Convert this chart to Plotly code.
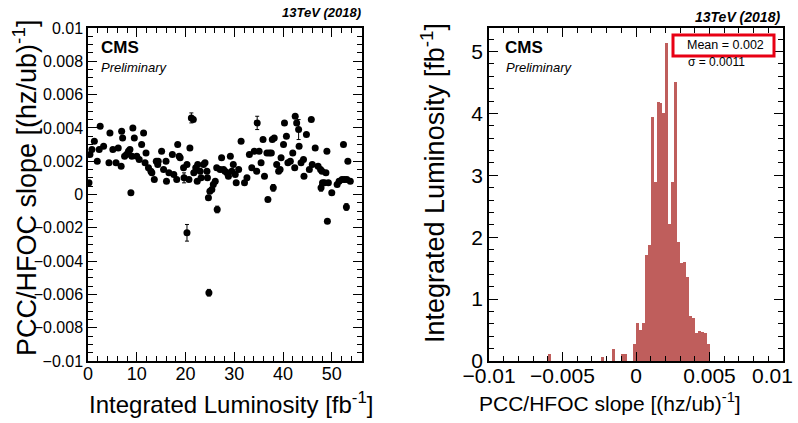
import plotly.graph_objects as go

# Per-fill slope of PCC/HFOC ratio vs. integrated luminosity
lumi_fb = [0.2, 0.4, 0.8, 1.3, 1.9, 2.3, 2.5, 3.2, 4.3, 4.5, 5.1, 5.75, 6.2, 6.8, 6.9, 7.1, 7.5, 7.9,
           8.3, 8.6, 8.8, 9.0, 9.2, 9.5, 10.0, 10.5, 11.0, 11.4, 11.7, 11.9, 12.4, 12.9, 13.1, 13.6,
           14.0, 14.3, 14.4, 15.1, 15.5, 16.0, 16.1, 16.6, 17.3, 17.6, 18.2, 18.4, 18.7, 18.9, 19.6,
           19.7, 20.3, 20.3, 20.7, 20.9, 21.2, 21.6, 21.7, 22.1, 22.4, 22.5, 23.0, 23.2, 23.7, 24.0,
           24.4, 24.5, 24.7, 24.8, 25.0, 25.4, 25.7, 26.1, 26.4, 26.5, 27.1, 27.4, 27.8, 28.1, 28.5,
           28.8, 29.2, 29.5, 29.8, 30.2, 30.4, 30.9, 31.4, 32.1, 32.6, 33.1, 33.6, 34.1, 34.6, 34.7,
           35.1, 35.5, 35.9, 36.2, 36.7, 36.9, 37.2, 37.6, 37.8, 38.0, 38.2, 38.7, 39.1, 39.4, 39.6,
           40.1, 40.3, 40.7, 41.0, 41.5, 42.0, 42.4, 42.5, 42.8, 43.2, 43.3, 43.7, 44.2, 44.3, 44.8,
           45.4, 45.8, 46.0, 46.6, 47.2, 47.7, 47.8, 48.0, 48.1, 48.5, 48.8, 49.0, 49.1, 49.3, 50.0,
           51.1, 51.5, 52.1, 52.4, 52.6, 53.0, 53.1, 53.3, 53.8]
slope = [0.0007, 0.0024, 0.0027, 0.0032, 0.0020, 0.0027, 0.0041, 0.0029, 0.0019, 0.0037, 0.0027,
         0.0019, 0.0028, 0.0017, 0.0038, 0.0034, 0.0023, 0.0024, 0.0026, 0.0027, 0.0001, 0.0023,
         0.0040, 0.0034, 0.0023, 0.0021, 0.0030, 0.0037, 0.0019, 0.0025, 0.0016, 0.0014, 0.0013,
         0.0009, 0.0020, 0.0018, 0.0020, 0.0026, 0.0015, 0.0020, 0.0008, 0.0013, 0.0024, 0.0012,
         0.0009, 0.0030, 0.0023, 0.0022, 0.0016, 0.0010, 0.0018, -0.0023, 0.0009, 0.0028, 0.0046,
         0.0045, 0.0013, 0.0016, 0.0008, 0.0018, 0.0014, 0.0010, 0.0018, 0.0019, 0.0014, 0.0010,
         -0.0002, -0.0059, 0.0002, 0.0003, 0.0006, 0.0008, 0.0016, -0.0009, 0.0015, 0.0022, 0.0015,
         0.0014, 0.0013, 0.0011, 0.0023, 0.0014, 0.0018, 0.0012, 0.0007, 0.0015, 0.0032, 0.0007,
         0.0010, 0.0024, 0.0016, 0.0026, 0.0014, 0.0043, 0.0026, 0.0019, 0.0033, 0.0011, 0.0025,
         -0.0003, 0.0025, 0.0025, 0.0033, 0.0004, 0.0034, 0.0018, 0.0014, 0.0015, 0.0022, 0.0030,
         0.0043, 0.0035, 0.0019, 0.0020, 0.0025, 0.0016, 0.0047, 0.0043, 0.0039, 0.0029, 0.0019,
         0.0021, 0.0011, 0.0036, 0.0015, 0.0045, 0.0018, 0.0028, 0.0017, 0.0015, 0.0004, 0.0014,
         0.0007, 0.0007, 0.0013, 0.0026, -0.0016, 0.0007, 0.0001, 0.0006, 0.0008, 0.0009, 0.0030,
         0.0009, -0.00075, 0.0009, 0.0020, 0.0008]
slope_err = [0.0001] * len(slope)
for xv, ev in [(19.7, 0.0003), (20.3, 0.0005), (21.2, 0.0003), (24.8, 0.0002), (26.5, 0.0002),
               (34.7, 0.0004), (38.0, 0.0002), (43.2, 0.0006), (47.8, 0.0002), (53.0, 0.0002)]:
    for i, xx in enumerate(lumi_fb):
        if xx == xv and (xv != 20.3 or slope[i] < 0):
            slope_err[i] = ev

# Luminosity-weighted slope distribution (bin width 0.0002)
bin_centers = [-0.0059, -0.0023, -0.0015, -0.0009, -0.0007, -0.0001,
               0.0001, 0.0003, 0.0005, 0.0007, 0.0009, 0.0011, 0.0013, 0.0015, 0.0017,
               0.0019, 0.0021, 0.0023, 0.0025, 0.0027, 0.0029, 0.0031, 0.0033, 0.0035,
               0.0037, 0.0039, 0.0041, 0.0043, 0.0045, 0.0047, 0.0049]
lumi_per_bin = [0.12, 0.06, 0.19, 0.11, 0.11, 0.27,
                0.61, 0.50, 0.62, 1.71, 1.88, 3.95, 2.90, 4.19, 4.17,
                4.01, 5.13, 2.22, 2.90, 4.50, 1.92, 1.58, 1.60, 1.35,
                0.72, 0.70, 0.45, 0.48, 0.47, 0.45, 0.27]

left_yticks = [-0.01, -0.008, -0.006, -0.004, -0.002, 0, 0.002, 0.004, 0.006, 0.008, 0.01]
left_ylabels = ["\u22120.01", "\u22120.008", "\u22120.006", "\u22120.004", "\u22120.002", "0",
                "0.002", "0.004", "0.006", "0.008", "0.01"]
# the last label sits at the frame edge and is placed separately so it stays inside the page
right_xticks = [-0.01, -0.005, 0, 0.005, 0.01]
right_xlabels = ["\u22120.01", "\u22120.005", "0", "0.005", ""]
right_xlast = "0.01"

W, H = 798, 423
SANS = "Liberation Sans, Arial, Helvetica"
BAR_COLOR = "rgb(191,94,92)"


def px(x):
    return x / W


def py(y):
    return 1 - y / H


fig = go.Figure()

fig.add_trace(go.Scatter(
    x=lumi_fb, y=slope, mode="markers",
    marker=dict(color="black", size=7),
    error_y=dict(type="data", array=slope_err, color="black", thickness=1, width=2),
    xaxis="x", yaxis="y", showlegend=False,
))

fig.add_trace(go.Bar(
    x=bin_centers, y=lumi_per_bin, width=0.0002,
    marker=dict(color=BAR_COLOR, line=dict(width=0)),
    xaxis="x2", yaxis="y2", showlegend=False,
))

axis_common = dict(
    showline=True, linecolor="black", linewidth=1.5, mirror="allticks",
    ticks="inside", ticklen=9, tickwidth=1, tickcolor="black",
    showgrid=False, zeroline=False, automargin=False, ticklabeloverflow="allow",
)

fig.update_layout(
    width=W, height=H, margin=dict(l=0, r=0, t=0, b=0, autoexpand=False),
    paper_bgcolor="white", plot_bgcolor="white", bargap=0,
    xaxis=dict(domain=[px(88), px(362)], range=[0, 56.2], anchor="y",
               tickvals=[0, 10, 20, 30, 40, 50], ticklabelstandoff=-4,
               minor=dict(dtick=2, ticklen=5, ticks="inside", tickcolor="black"),
               tickfont=dict(family=SANS, size=18, color="black"), **axis_common),
    yaxis=dict(domain=[py(361), py(28)], range=[-0.01000001, 0.01000001], anchor="x",
               tickvals=left_yticks, ticktext=left_ylabels,
               minor=dict(dtick=0.0005, ticklen=5, ticks="inside", tickcolor="black"),
               tickfont=dict(family=SANS, size=16, color="black"), **axis_common),
    xaxis2=dict(domain=[px(489), px(783)], range=[-0.01000001, 0.01000001], anchor="y2",
                tickvals=right_xticks, ticktext=right_xlabels, ticklabelstandoff=-5,
                minor=dict(dtick=0.001, ticklen=5, ticks="inside", tickcolor="black"),
                tickfont=dict(family=SANS, size=21, color="black"), **axis_common),
    yaxis2=dict(domain=[py(361), py(28)], range=[0, 5.38], anchor="x2",
                tickvals=[0, 1, 2, 3, 4, 5],
                minor=dict(dtick=0.2, ticklen=5, ticks="inside", tickcolor="black"),
                tickfont=dict(family=SANS, size=21, color="black"), **axis_common),
)

ann = []


def text(x, y, s, size, xanchor="left", angle=0, color="black"):
    ann.append(dict(x=px(x), y=py(y), xref="paper", yref="paper", text=s, showarrow=False,
                    xanchor=xanchor, yanchor="middle", textangle=angle,
                    font=dict(family=SANS, size=size, color=color)))


# axis titles
text(25, 188, "PCC/HFOC slope [(hz/ub)<sup>-1</sup>]", 27, "center", -90)
text(231, 403, "Integrated Luminosity [fb<sup>-1</sup>]", 24, "center")
text(433, 183, "Integrated Luminosity [fb<sup>-1</sup>]", 27, "center", -90)
text(610, 402, "PCC/HFOC slope [(hz/ub)<sup>-1</sup>]", 21, "center")
text(772, 375, right_xlast, 21, "center")

# labels inside frames
text(363, 12, "<b><i>13TeV (2018)</i></b>", 13, "right")
text(782, 17, "<b><i>13TeV (2018)</i></b>", 14, "right")
text(99, 48, "<b>CMS</b>", 17)
text(99, 67, "<i>Preliminary</i>", 13)
text(503, 47, "<b>CMS</b>", 17)
text(504, 67, "<i>Preliminary</i>", 13)
text(716, 62, "\u03c3 = 0.0011", 12, "center")

fig.add_shape(type="rect", xref="paper", yref="paper",
              x0=px(673), x1=px(774), y0=py(56), y1=py(35),
              line=dict(color="rgb(232,0,20)", width=3), fillcolor="white", layer="above")
text(725, 45.5, "Mean = 0.002", 12.5, "center")

fig.update_layout(annotations=ann)
fig.write_html("out.html")
